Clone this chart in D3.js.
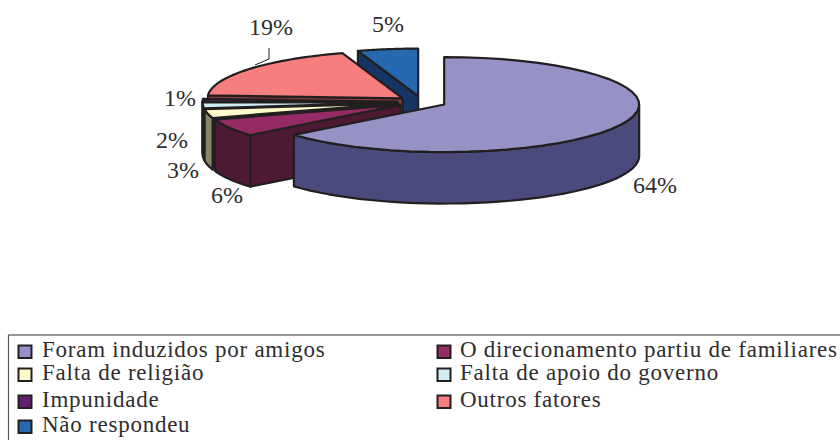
<!DOCTYPE html>
<html><head><meta charset="utf-8">
<script src="https://cdn.jsdelivr.net/npm/d3@7"></script>
<style>html,body{margin:0;padding:0;background:#fff;overflow:hidden}svg{display:block}text{font-family:"Liberation Serif",serif;fill:#2f2d2e}</style>
</head><body><svg id="c" width="840" height="440"></svg>
<script>
const categories = ["Foram induzidos por amigos","O direcionamento partiu de familiares","Falta de religião","Falta de apoio do governo","Impunidade","Outros fatores","Não respondeu"];
const values = [64,6,3,2,1,19,5];
const labels = ["64%","6%","3%","2%","1%","19%","5%"];
const topColors = ["#9692c6","#952b64","#fdfbc9","#cfecf3","#651f70","#f67e7e","#2569b1"];
const sideColors = ["#4b4a7d","#4e1a33","#86866a","#687a80","#3a1040","#8a3d3d","#153564"];

const W=840,H=440,cx=422,cy=102,rx=195,ry=47.5,depth=51.5,explode=24.5,ink="#231f20";
const labelPos=[[655,193],[227,203],[183,178],[172,148],[180,106],[271,35],[388,32]];
const svg=d3.select("#c");
const pie=d3.pie().sort(null).value(d=>d)(values);
const line=d3.line();
const pt=(c,a,dz=0)=>[c[0]+rx*Math.sin(a),c[1]-ry*Math.cos(a)+dz];
const arcPts=(c,a,b,dz=0)=>d3.range(0,41).map(i=>pt(c,a+(b-a)*i/40,dz));
const g=svg.append("g").attr("stroke",ink).attr("stroke-width",2.2).attr("stroke-linejoin","round");
const order=[6,5,4,3,2,1,0];
order.forEach(i=>{
  const p=pie[i],a=p.startAngle,b=p.endAngle,mid=(a+b)/2;
  const c=[cx+explode*Math.sin(mid),cy-explode*Math.cos(mid)*ry/rx];
  if(Math.sin(a)<-1e-6){
    const r=pt(c,a);
    g.append("path").attr("fill",sideColors[i]).attr("d",line([c,r,[r[0],r[1]+depth],[c[0],c[1]+depth]])+"Z");
  }
  const w0=Math.max(a,Math.PI/2),w1=Math.min(b,Math.PI*1.5);
  if(w1>w0){
    g.append("path").attr("fill",sideColors[i]).attr("d",line(arcPts(c,w0,w1).concat(arcPts(c,w1,w0,depth)))+"Z");
  }
  g.append("path").attr("fill",topColors[i]).attr("d",line([c].concat(arcPts(c,a,b)))+"Z");
});
svg.selectAll("text.l").data(labels).join("text").attr("class","l")
  .attr("x",(d,i)=>labelPos[i][0]).attr("y",(d,i)=>labelPos[i][1])
  .attr("text-anchor","middle").attr("font-size",24).text(d=>d);
svg.append("path").attr("d","M269,48V59L255,65").attr("fill","none").attr("stroke",ink).attr("stroke-width",1);

// legend
svg.append("rect").attr("x",8.5).attr("y",335).attr("width",850).attr("height",120).attr("fill","none").attr("stroke","#555").attr("stroke-width",1.2);
const rowY=[357,380,407,432],colX=[18.5,437.5];
const legendRow=i=>Math.floor(i/2),legendCol=i=>i%2;
const lg=svg.selectAll("g.k").data(categories).join("g").attr("class","k")
  .attr("transform",(d,i)=>`translate(${colX[legendCol(i)]},${rowY[legendRow(i)]})`);
lg.append("rect").attr("y",-11.5).attr("width",13).attr("height",12.5).attr("fill",(d,i)=>topColors[i]).attr("stroke",ink).attr("stroke-width",2);
lg.append("text").attr("x",(d,i)=>i%2?22.5:23.5).attr("font-size",23).attr("letter-spacing",0.75).text(d=>d);
</script></body></html>
